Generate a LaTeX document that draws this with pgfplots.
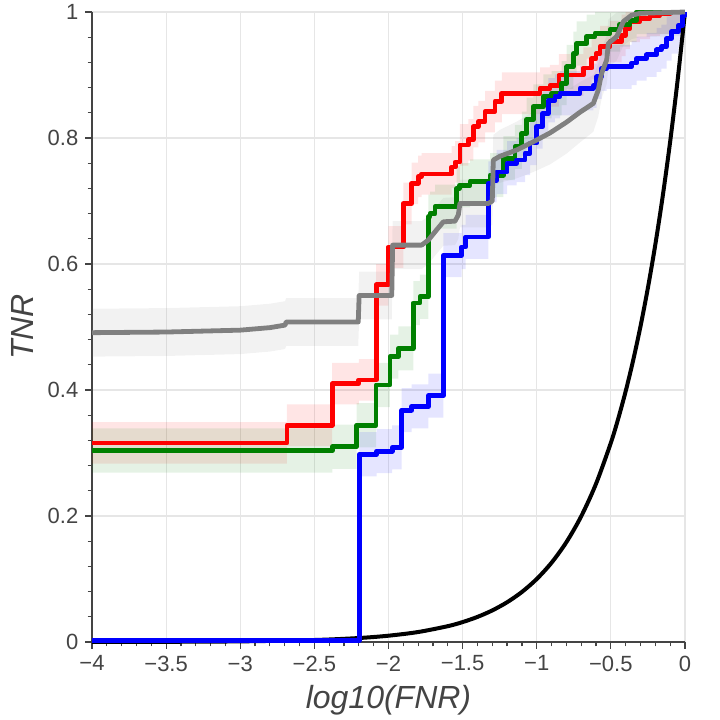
\documentclass[border=0pt]{standalone}
\usepackage{pgfplots}
\usepackage{pgfplotstable}
\pgfplotsset{compat=1.18}
\usepgfplotslibrary{fillbetween}
\usepackage{fontspec}
\setmainfont{Liberation Sans}
\definecolor{axgray}{HTML}{444444}
\definecolor{gridgray}{HTML}{E6E6E6}
\definecolor{dkgreen}{RGB}{0,128,0}
\definecolor{mgray}{RGB}{128,128,128}

\pgfplotstableread{
x y lo hi
-4 0.316 0.283 0.349
-2.685 0.344 0.311 0.377
-2.38 0.410 0.377 0.443
-2.2 0.416 0.383 0.449
-2.083 0.567 0.534 0.600
-2.0 0.627 0.594 0.660
-1.90 0.696 0.663 0.729
-1.844 0.728 0.695 0.761
-1.80 0.739 0.706 0.772
-1.776 0.743 0.710 0.776
-1.574 0.754 0.721 0.787
-1.55 0.762 0.729 0.795
-1.518 0.789 0.756 0.822
-1.462 0.797 0.764 0.830
-1.428 0.818 0.785 0.851
-1.394 0.826 0.793 0.859
-1.349 0.842 0.809 0.875
-1.282 0.858 0.825 0.891
-1.236 0.871 0.838 0.904
-0.978 0.879 0.846 0.912
-0.911 0.883 0.850 0.916
-0.85 0.900 0.867 0.933
-0.686 0.911 0.878 0.944
-0.63 0.926 0.893 0.959
-0.60 0.934 0.901 0.967
-0.573 0.945 0.912 0.978
-0.506 0.953 0.920 0.986
-0.427 0.963 0.930 0.996
-0.40 0.974 0.941 1.0
-0.371 0.985 0.952 1.0
-0.304 0.990 0.957 1.0
-0.236 0.995 0.962 1.0
-0.169 0.998 0.965 1.0
-0.10 1.0 0.967 1.0
0 1.0 0.967 1.0
}\redtab

\pgfplotstableread{
x y lo hi
-4 0.304 0.269 0.339
-2.379 0.310 0.275 0.345
-2.215 0.344 0.309 0.379
-2.084 0.408 0.373 0.443
-1.99 0.453 0.418 0.488
-1.934 0.466 0.431 0.501
-1.833 0.538 0.503 0.573
-1.788 0.548 0.513 0.583
-1.731 0.675 0.640 0.710
-1.72 0.680 0.645 0.715
-1.686 0.691 0.656 0.726
-1.54 0.720 0.685 0.755
-1.52 0.725 0.690 0.760
-1.45 0.731 0.696 0.766
-1.315 0.741 0.706 0.776
-1.225 0.768 0.733 0.803
-1.147 0.786 0.751 0.821
-1.101 0.807 0.772 0.842
-1.068 0.829 0.794 0.864
-1.023 0.850 0.815 0.885
-0.956 0.866 0.831 0.901
-0.90 0.871 0.836 0.906
-0.832 0.887 0.852 0.922
-0.798 0.913 0.878 0.948
-0.753 0.934 0.899 0.969
-0.731 0.950 0.915 0.985
-0.663 0.961 0.926 0.996
-0.607 0.966 0.931 1.0
-0.506 0.972 0.937 1.0
-0.44 0.980 0.945 1.0
-0.371 0.987 0.952 1.0
-0.326 1.0 0.965 1.0
0 1.0 0.965 1.0
}\greentab

\pgfplotstableread{
x y lo hi
-4 0.002 0 0.004
-2.197 0.298 0.263 0.333
-2.08 0.303 0.268 0.338
-1.975 0.309 0.274 0.344
-1.911 0.368 0.333 0.403
-1.844 0.374 0.339 0.409
-1.731 0.391 0.356 0.426
-1.63 0.614 0.579 0.649
-1.506 0.627 0.592 0.662
-1.48 0.643 0.608 0.678
-1.327 0.728 0.693 0.763
-1.30 0.733 0.698 0.768
-1.27 0.746 0.711 0.781
-1.20 0.760 0.725 0.795
-1.135 0.765 0.730 0.800
-1.079 0.776 0.741 0.811
-1.045 0.792 0.757 0.827
-1.00 0.818 0.783 0.853
-0.96 0.839 0.804 0.874
-0.922 0.860 0.825 0.895
-0.877 0.866 0.831 0.901
-0.843 0.871 0.836 0.906
-0.708 0.879 0.844 0.914
-0.618 0.883 0.848 0.918
-0.596 0.897 0.862 0.932
-0.562 0.910 0.875 0.945
-0.528 0.913 0.878 0.948
-0.36 0.919 0.884 0.954
-0.326 0.926 0.891 0.961
-0.259 0.932 0.897 0.967
-0.191 0.940 0.905 0.975
-0.16 0.945 0.910 0.980
-0.124 0.958 0.923 0.993
-0.09 0.969 0.934 1.0
-0.045 0.979 0.944 1.0
-0.015 0.995 0.960 1.0
0 1.0 0.965 1.0
}\bluetab

\pgfplotstableread{
x y lo hi
-4 0.491 0.453 0.529
-3.5 0.492 0.454 0.530
-3.0 0.495 0.457 0.533
-2.8 0.499 0.461 0.537
-2.698 0.503 0.465 0.541
-2.69 0.508 0.470 0.546
-2.204 0.508 0.470 0.546
-2.198 0.550 0.512 0.588
-1.978 0.550 0.512 0.588
-1.972 0.630 0.592 0.668
-1.776 0.630 0.592 0.668
-1.731 0.638 0.600 0.676
-1.676 0.654 0.616 0.692
-1.63 0.667 0.629 0.705
-1.551 0.668 0.630 0.706
-1.529 0.678 0.640 0.716
-1.518 0.696 0.658 0.734
-1.327 0.696 0.658 0.734
-1.30 0.700 0.662 0.738
-1.293 0.765 0.725 0.805
-1.248 0.771 0.729 0.813
-1.135 0.781 0.736 0.826
-1.023 0.794 0.746 0.842
-0.911 0.808 0.758 0.858
-0.80 0.825 0.775 0.875
-0.708 0.841 0.793 0.889
-0.618 0.855 0.810 0.900
-0.585 0.876 0.834 0.918
-0.562 0.903 0.863 0.943
-0.528 0.924 0.886 0.962
-0.517 0.950 0.912 0.988
-0.461 0.961 0.923 0.999
-0.415 0.985 0.947 1.0
-0.36 0.995 0.957 1.0
-0.30 0.998 0.960 1.0
0 1.0 0.962 1.0
}\graytab

\begin{document}
\begin{tikzpicture}
\begin{axis}[
  at={(0,0)}, anchor=south west,
  scale only axis, width=296.5pt, height=315pt,
  xmin=-4, xmax=0, ymin=0, ymax=1,
  clip=false,
  axis x line*=bottom, axis y line*=left,
  axis line style={axgray, line width=0.8pt},
  tick align=outside,
  major tick length=3.3pt, minor tick length=2.2pt,
  every tick/.style={axgray, line width=0.6pt},
  xtick={-4,-3.5,-3,-2.5,-2,-1.5,-1,-0.5,0},
  xticklabels={−4,−3.5,−3,−2.5,−2,−1.5,−1,−0.5,0},
  ytick={0,0.2,0.4,0.6,0.8,1},
  yticklabels={0,0.2,0.4,0.6,0.8,1},
  minor x tick num=4, minor y tick num=4,
  grid=major,
  major grid style={gridgray, line width=0.6pt},
  tick label style={font=\fontsize{11}{13}\selectfont, text=axgray},
  label style={font=\fontsize{16}{19}\selectfont\itshape, text=axgray},
  xlabel={log10(FNR)},
  ylabel={TNR},
  xlabel style={at={(axis description cs:0.5,-0.093)}, anchor=center},
  ylabel style={at={(axis description cs:-0.118,0.5)}, anchor=center},
]
% bands
\addplot[const plot, draw=none, name path=rlo, forget plot] table[x=x,y=lo]{\redtab};
\addplot[const plot, draw=none, name path=rhi, forget plot] table[x=x,y=hi]{\redtab};
\addplot[red, fill opacity=0.1, draw=none, forget plot] fill between[of=rlo and rhi];
\addplot[const plot, draw=none, name path=glo, forget plot] table[x=x,y=lo]{\greentab};
\addplot[const plot, draw=none, name path=ghi, forget plot] table[x=x,y=hi]{\greentab};
\addplot[dkgreen, fill opacity=0.1, draw=none, forget plot] fill between[of=glo and ghi];
\addplot[const plot, draw=none, name path=blo, forget plot] table[x=x,y=lo]{\bluetab};
\addplot[const plot, draw=none, name path=bhi, forget plot] table[x=x,y=hi]{\bluetab};
\addplot[blue, fill opacity=0.1, draw=none, forget plot] fill between[of=blo and bhi];
\addplot[draw=none, name path=klo, forget plot] table[x=x,y=lo]{\graytab};
\addplot[draw=none, name path=khi, forget plot] table[x=x,y=hi]{\graytab};
\addplot[mgray, fill opacity=0.1, draw=none, forget plot] fill between[of=klo and khi];
% black reference curve
\addplot[black, line width=2pt, smooth, no marks] coordinates {
(-4,0.0001) (-3.5,0.000316) (-3,0.001) (-2.5,0.00316) (-2.2,0.00631) (-2,0.01)
(-1.8,0.01585) (-1.6,0.02512) (-1.5,0.03162) (-1.4,0.03981) (-1.3,0.05012)
(-1.2,0.06310) (-1.1,0.07943) (-1.0,0.1) (-0.9,0.12589) (-0.8,0.15849)
(-0.7,0.19953) (-0.6,0.25119) (-0.5,0.31623) (-0.45,0.35481) (-0.4,0.39811)
(-0.35,0.44668) (-0.3,0.50119) (-0.25,0.56234) (-0.2,0.63096) (-0.15,0.70795)
(-0.1,0.79433) (-0.05,0.89125) (0,1)};
% step curves
\addplot[red, line width=2.4pt, const plot, no marks, line join=round] table[x=x,y=y]{\redtab};
\addplot[dkgreen, line width=2.4pt, const plot, no marks, line join=round] table[x=x,y=y]{\greentab};
\addplot[blue, line width=2.4pt, const plot, no marks, line join=round] table[x=x,y=y]{\bluetab};
\addplot[mgray, line width=2.4pt, no marks, line join=round] table[x=x,y=y]{\graytab};
\end{axis}
\pgfresetboundingbox
\path (-46pt,-39pt) rectangle (314pt,321pt);
\end{tikzpicture}
\end{document}
